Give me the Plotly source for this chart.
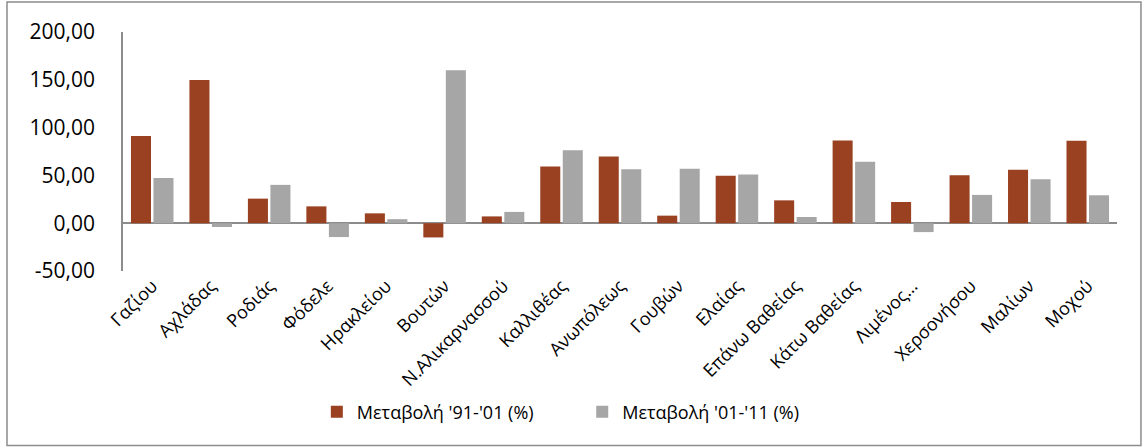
import plotly.graph_objects as go

categories = ["Γαζίου", "Αχλάδας", "Ροδιάς", "Φόδελε", "Ηρακλείου", "Βουτών",
              "Ν.Αλικαρνασσού", "Καλλιθέας", "Ανωπόλεως", "Γουβών", "Ελαίας",
              "Επάνω Βαθείας", "Κάτω Βαθείας", "Λιμένος…", "Χερσονήσου",
              "Μαλίων", "Μοχού"]
change_91_01 = [91.1, 149.9, 25.7, 17.6, 10.3, -14.9, 7.1, 59.3, 69.8, 7.9,
                49.6, 23.9, 86.6, 22.2, 50.2, 55.8, 86.3]
change_01_11 = [47.4, -4.0, 40.1, -14.5, 4.2, 160.1, 11.8, 76.4, 56.5, 56.9,
                50.9, 6.5, 64.2, -9.3, 29.6, 46.0, 29.2]
series_names = ["Μεταβολή '91-'01 (%)", "Μεταβολή '01-'11 (%)"]
y_tickvals = [-50, 0, 50, 100, 150, 200]
y_ticktext = ["-50,00", "0,00", "50,00", "100,00", "150,00", "200,00"]

font_family = "Open Sans, Noto Sans, DejaVu Sans, sans-serif"

fig = go.Figure()
fig.add_trace(go.Bar(x=categories, y=change_91_01, name=series_names[0],
                     marker=dict(color="#9A4122", line=dict(width=0)),
                     legend="legend"))
fig.add_trace(go.Bar(x=categories, y=change_01_11, name=series_names[1],
                     marker=dict(color="#A6A6A6", line=dict(width=0)),
                     legend="legend2"))

legend_common = dict(orientation="h", y=-0.59, yanchor="middle", xanchor="left",
                     font=dict(size=18), itemwidth=30, bgcolor="rgba(0,0,0,0)")

fig.update_layout(
    width=1145, height=448,
    margin=dict(l=123, r=28, t=32, b=177, autoexpand=False),
    paper_bgcolor="white", plot_bgcolor="white",
    barmode="group", bargap=0.23, bargroupgap=0.11,
    font=dict(family=font_family, color="black"),
    showlegend=True,
    legend=dict(x=0.195, **legend_common),
    legend2=dict(x=0.462, **legend_common),
    shapes=[dict(type="rect", xref="paper", yref="paper",
                 x0=-0.1167, x1=1.0241, y0=-0.73, y1=1.1255,
                 line=dict(color="#8C8C8C", width=1.5), fillcolor="rgba(0,0,0,0)",
                 layer="below")],
)
fig.update_yaxes(range=[-50, 200], tickvals=y_tickvals, ticktext=y_ticktext,
                 showgrid=False, zeroline=True, zerolinecolor="#8C8C8C", zerolinewidth=1.5,
                 showline=True, linecolor="#8C8C8C", linewidth=1.5,
                 tickfont=dict(size=21), ticks="", ticklabelstandoff=22,
                 automargin=False)
fig.update_xaxes(tickangle=-45, tickfont=dict(size=18), showgrid=False,
                 showline=False, ticks="", automargin=False)

fig.write_html("out.html", config={"displayModeBar": False},
               post_script="document.body.style.margin='0';document.body.style.overflow='hidden';")
